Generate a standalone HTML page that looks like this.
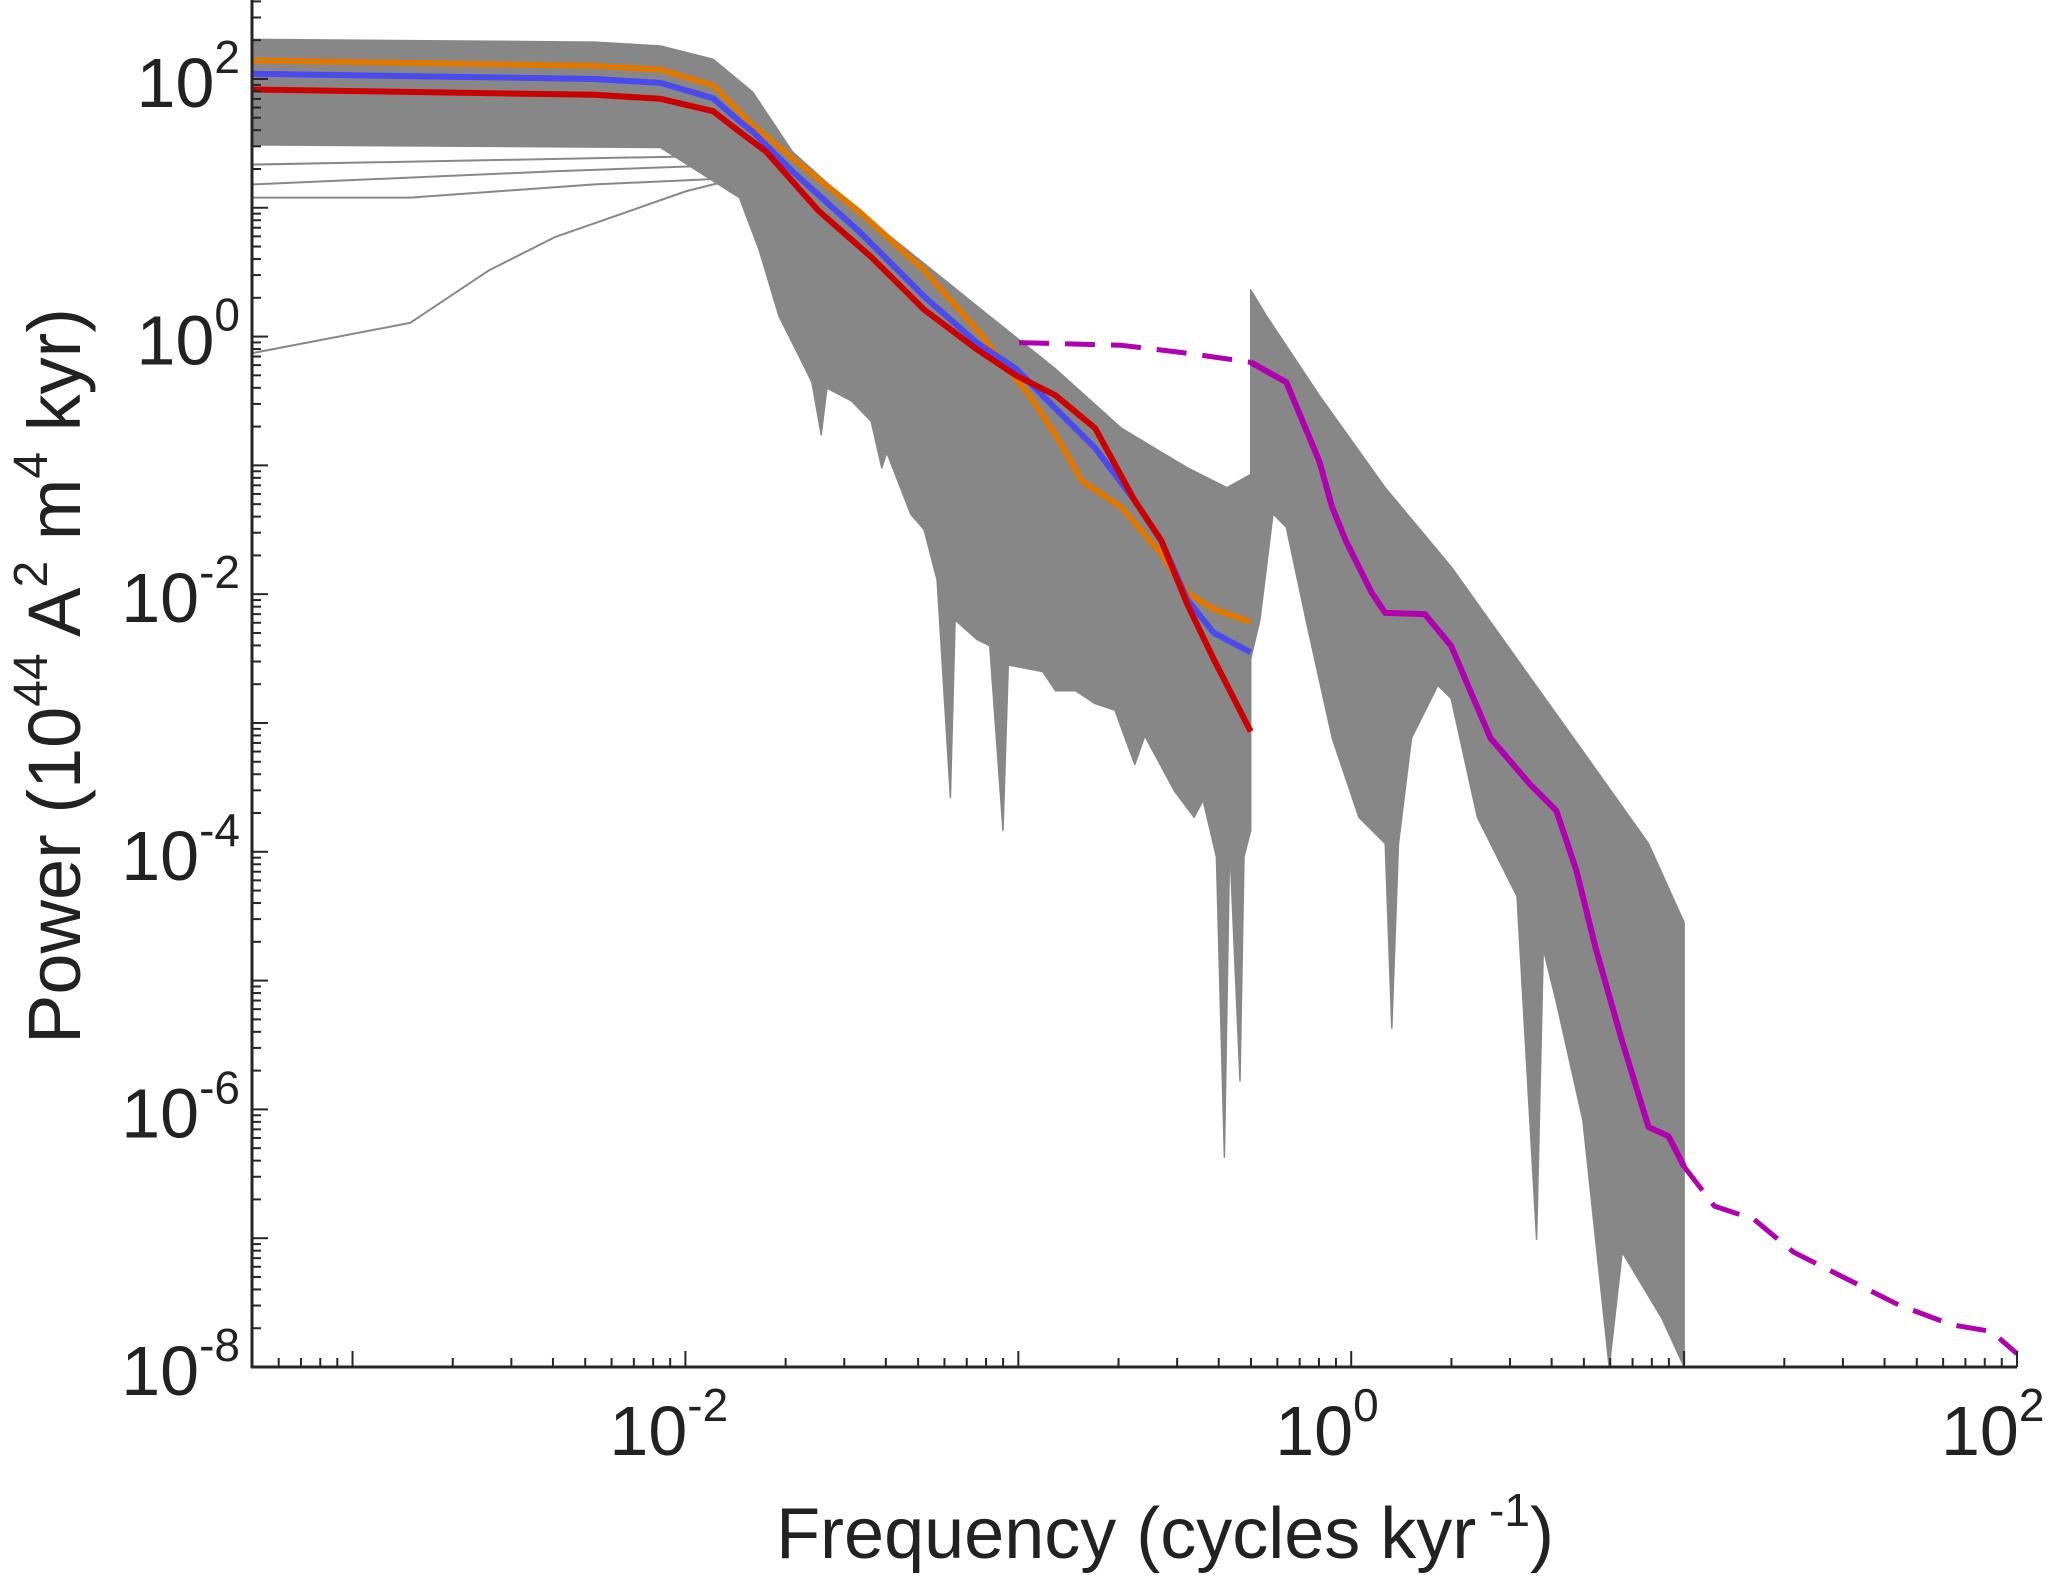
<!DOCTYPE html>
<html><head><meta charset="utf-8"><style>
html,body{margin:0;padding:0;background:#fff;}
svg{display:block;font-family:"Liberation Sans",sans-serif;}
</style></head><body>
<svg id="chart" width="2067" height="1577" viewBox="0 0 2067 1577" xmlns="http://www.w3.org/2000/svg">
<g id="plot"></g>
<g id="axes"></g>
<text x="1165" y="1558" font-size="72" text-anchor="middle" fill="#222">Frequency (cycles kyr<tspan font-size="46" dy="-32"> -1</tspan><tspan dy="32">)</tspan></text>
<text transform="translate(80,676) rotate(-90)" font-size="74" text-anchor="middle" fill="#222">Power (10<tspan font-size="48" dy="-33">44</tspan><tspan dy="33"> A</tspan><tspan font-size="48" dy="-33">2</tspan><tspan dy="33"> m</tspan><tspan font-size="48" dy="-33">4</tspan><tspan dy="33"> kyr)</tspan></text>
</svg>
<script>
// data in log10 units: [log10(frequency), log10(power)]
const xTickExps = [-2, 0, 2];
const yTickExps = [2, 0, -2, -4, -6, -8];
const grayUpper1 = [[-3.302,2.307],[-2.273,2.286],[-2.075,2.256],[-1.917,2.153],[-1.798,1.898],[-1.679,1.437],[-1.481,0.976],[-1.283,0.567],[-1.086,0.157],[-0.888,-0.252],[-0.690,-0.712],[-0.492,-1.019],[-0.373,-1.173],[-0.302,-1.07]];
const grayLower1 = [[-3.302,1.488],[-2.075,1.468],[-1.838,1.079],[-1.778,0.669],[-1.719,0.157],[-1.659,-0.149],[-1.620,-0.354],[-1.592,-0.763],[-1.575,-0.4],[-1.501,-0.5],[-1.442,-0.659],[-1.410,-1.019],[-1.395,-0.9],[-1.323,-1.38],[-1.283,-1.5],[-1.244,-1.889],[-1.204,-3.578],[-1.190,-2.2],[-1.125,-2.35],[-1.086,-2.4],[-1.046,-3.834],[-1.030,-2.55],[-0.927,-2.6],[-0.888,-2.75],[-0.828,-2.75],[-0.769,-2.85],[-0.710,-2.9],[-0.650,-3.322],[-0.620,-3.1],[-0.531,-3.527],[-0.472,-3.732],[-0.445,-3.6],[-0.405,-4.039],[-0.381,-6.372],[-0.365,-3.936],[-0.334,-5.779],[-0.322,-4.039],[-0.302,-3.834]];
const grayUpper2 = [[-0.302,0.362],[-0.254,0.157],[-0.096,-0.457],[0.102,-1.173],[0.300,-1.787],[0.498,-2.504],[0.696,-3.22],[0.893,-3.936],[1.0,-4.55]];
const grayLower2 = [[-0.302,-2.504],[-0.274,-2.196],[-0.235,-1.377],[-0.195,-1.48],[-0.136,-2.196],[-0.057,-3.117],[0.023,-3.732],[0.102,-3.936],[0.122,-5.369],[0.142,-3.936],[0.181,-3.117],[0.260,-2.708],[0.300,-2.81],[0.379,-3.732],[0.498,-4.346],[0.557,-7.007],[0.577,-4.755],[0.616,-5.165],[0.696,-6.086],[0.775,-8],[0.814,-7.109],[0.933,-7.621],[1.0,-8]];
const grayLineA = [[-3.302,1.079],[-2.827,1.079],[-2.273,1.181],[-1.838,1.232]];
const grayLineB = [[-3.302,1.181],[-2.392,1.283],[-1.838,1.335]];
const grayLineC = [[-3.302,1.335],[-1.838,1.406]];
const grayLineD = [[-3.302,-0.129],[-2.827,0.106],[-2.589,0.516],[-2.392,0.772],[-1.996,1.130],[-1.838,1.232]];
const orangeSeries = [[-3.302,2.143],[-2.273,2.102],[-2.075,2.072],[-1.917,1.95],[-1.838,1.744],[-1.798,1.642],[-1.679,1.386],[-1.481,0.976],[-1.283,0.516],[-1.125,0.055],[-0.967,-0.457],[-0.888,-0.763],[-0.808,-1.122],[-0.690,-1.326],[-0.571,-1.685],[-0.492,-1.992],[-0.413,-2.115],[-0.302,-2.217]];
const blueSeries = [[-3.302,2.041],[-2.273,2.0],[-2.075,1.969],[-1.917,1.85],[-1.838,1.672],[-1.798,1.591],[-1.679,1.283],[-1.481,0.823],[-1.283,0.311],[-1.125,-0.047],[-1.006,-0.252],[-0.888,-0.559],[-0.769,-0.866],[-0.650,-1.275],[-0.571,-1.582],[-0.492,-2.043],[-0.413,-2.299],[-0.302,-2.452]];
const redSeries = [[-3.302,1.918],[-2.273,1.877],[-2.075,1.846],[-1.917,1.75],[-1.838,1.591],[-1.758,1.437],[-1.600,0.976],[-1.442,0.618],[-1.283,0.209],[-1.125,-0.098],[-1.006,-0.303],[-0.888,-0.457],[-0.769,-0.712],[-0.650,-1.275],[-0.571,-1.582],[-0.492,-2.08],[-0.413,-2.504],[-0.302,-3.066]];
const magentaSeries = [[-0.302,-0.2],[-0.195,-0.354],[-0.096,-0.968],[-0.057,-1.326],[-0.017,-1.582],[0.062,-1.992],[0.102,-2.145],[0.221,-2.155],[0.300,-2.401],[0.418,-3.117],[0.537,-3.476],[0.616,-3.68],[0.676,-4.141],[0.735,-4.755],[0.814,-5.472],[0.893,-6.137],[0.953,-6.208],[1.0,-6.444]];
const magentaDashLow = [[-0.998,-0.047],[-0.690,-0.068],[-0.492,-0.129],[-0.302,-0.2]];
const magentaDashHigh = [[1.0,-6.444],[1.091,-6.751],[1.210,-6.853],[1.329,-7.109],[1.487,-7.314],[1.645,-7.519],[1.804,-7.672],[1.923,-7.724],[2.0,-7.897]];

const X0 = 252, X1 = 2017, Y0 = 0, Y1 = 1367;
const xMin = -3.302, xMax = 2.0, yMax = 2.613, yMin = -8;
function sx(v){ return X0 + (v - xMin) / (xMax - xMin) * (X1 - X0); }
function sy(v){ return Y1 - (v - yMin) / (yMax - yMin) * (Y1 - Y0); }
const NS = "http://www.w3.org/2000/svg";
const plot = document.getElementById('plot');
const axes = document.getElementById('axes');
function pts(arr){ return arr.map(p => sx(p[0]).toFixed(1) + ',' + sy(p[1]).toFixed(1)).join(' '); }
function poly(upper, lower, name){
  const el = document.createElementNS(NS, 'polygon');
  el.setAttribute('points', pts(upper.concat(lower.slice().reverse())));
  el.setAttribute('fill', '#878787');
  el.setAttribute('stroke', '#878787');
  el.setAttribute('stroke-width', '1.5');
  el.setAttribute('stroke-linejoin', 'round');
  
  
  plot.appendChild(el);
}
function line(arr, color, w, dash, name){
  const el = document.createElementNS(NS, 'polyline');
  el.setAttribute('points', pts(arr));
  el.setAttribute('fill', 'none');
  el.setAttribute('stroke', color);
  el.setAttribute('stroke-width', w);
  el.setAttribute('stroke-linejoin', 'round');
  if (dash) el.setAttribute('stroke-dasharray', dash);
  
  
  plot.appendChild(el);
}
poly(grayUpper1, grayLower1, 'gray-ensemble-low-freq');
poly(grayUpper2, grayLower2, 'gray-ensemble-high-freq');
line(grayLineA, '#888', 2, null, 'gray-spectrum-line');
line(grayLineB, '#888', 2, null, 'gray-spectrum-line');
line(grayLineC, '#888', 2, null, 'gray-spectrum-line');
line(grayLineD, '#888', 2, null, 'gray-spectrum-line');
line(orangeSeries, '#e07800', 6, null, 'orange-spectrum');
line(blueSeries, '#4a4af0', 6, null, 'blue-spectrum');
line(redSeries, '#cc0000', 6, null, 'red-spectrum');
line(magentaDashLow, '#b000b0', 5, '30,16', 'magenta-dashed-low');
line(magentaSeries, '#b000b0', 6, null, 'magenta-spectrum');
line(magentaDashHigh, '#b000b0', 5, '30,16', 'magenta-dashed-high');

function seg(x1,y1,x2,y2,w,name){
  const el = document.createElementNS(NS,'line');
  el.setAttribute('x1',x1); el.setAttribute('y1',y1); el.setAttribute('x2',x2); el.setAttribute('y2',y2);
  el.setAttribute('stroke','#262626'); el.setAttribute('stroke-width',w);
  
  
  axes.appendChild(el);
}
seg(X0, 0, X0, Y1+1, 3, 'y-axis-line');
seg(X0-1, Y1, X1, Y1, 3, 'x-axis-line');
for (let d = -4; d <= 2; d++) {
  for (let m = 1; m <= 9; m++) {
    const v = d + Math.log10(m);
    if (v < xMin - 1e-6 || v > xMax + 1e-6) continue;
    const x = sx(v);
    seg(x, Y1, x, Y1 - (m === 1 ? 16 : 9), 2, m === 1 ? 'x-major-tick' : 'x-minor-tick');
  }
}
for (let d = -8; d <= 2; d++) {
  for (let m = 1; m <= 9; m++) {
    const v = d + Math.log10(m);
    if (v < yMin - 1e-6 || v > yMax) continue;
    const y = sy(v);
    seg(X0, y, X0 + (m === 1 ? 16 : 9), y, 2, m === 1 ? 'y-major-tick' : 'y-minor-tick');
  }
}
function label(x, y, exp, anchor, name){
  const t = document.createElementNS(NS,'text');
  t.setAttribute('x', x); t.setAttribute('y', y);
  t.setAttribute('font-size', '70'); t.setAttribute('fill', '#222');
  t.setAttribute('text-anchor', anchor);
  
  
  t.innerHTML = '10<tspan font-size="46" dy="-34">' + exp + '</tspan>';
  axes.appendChild(t);
}
xTickExps.forEach(e => label(sx(e) - 76, 1455, e, 'start', 'x-tick-label'));
yTickExps.forEach(e => label(240, sy(e) + 28, e, 'end', 'y-tick-label'));
</script>
</body></html>
